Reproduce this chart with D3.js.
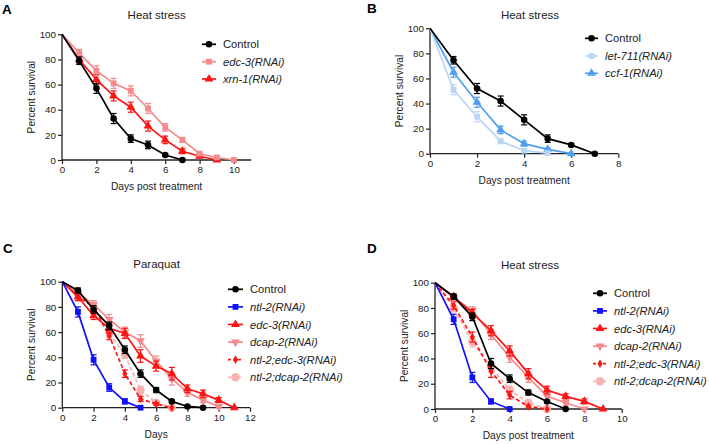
<!DOCTYPE html>
<html><head><meta charset="utf-8">
<script src="https://cdn.jsdelivr.net/npm/d3@7"></script>
<style>body{margin:0;background:#fff}svg{display:block;font-family:"Liberation Sans",Arial,sans-serif}</style>
</head><body><svg id="c" width="709" height="444"></svg>
<script>
// ---------- DATA ----------
// Panel A (Heat stress)
const aControl = [100,79,57,33,17,12,4,0];
const aControlErr = [0,3,4,4,3,3,1,0];
const aEdc3 = [100,85,71,61,55,41,26,16,5,2,0];
const aEdc3Err = [0,3,4,4,4,4,3,2,1,1,0];
const aXrn1 = [100,80,64,51,42,27,16,7,3,0];
const aXrn1Err = [0,3,4,4,4,4,3,2,1,0];
const xTicksA = [0,2,4,6,8,10];

// Panel B (Heat stress)
const bControl = [100,74.5,52,42,27,12,7,0];
const bControlErr = [0,3,4,4,4,3,1,0];
const bLet711 = [100,51,29.5,10,2.4,0.5];
const bLet711Err = [0,4,4,2,1,0];
const bCcf1 = [100,65,41,19,8,3.5,0];
const bCcf1Err = [0,4,4,3,2,1,0];
const xTicksB = [0,2,4,6,8];

// Panel C (Paraquat)
const cControl = [100,93,78,65,46,27,14,5,1,0];
const cControlErr = [0,2,3,3,3,3,2,1,0,0];
const cNtl2 = [100,76,38,16,5,0];
const cNtl2Err = [0,4,4,3,2,0];
const cEdc3 = [100,88,73,63,59,41,33,27,15,11,6,0];
const cEdc3Err = [0,3,3,4,4,5,4,5,3,3,2,0];
const cDcap2 = [100,91,82,70,60,53,37,23,12,6,1];
const cDcap2Err = [0,3,3,4,4,5,4,5,3,2,1];
const cNtl2Edc3 = [100,88,80,57,27,7,3,0];
const cNtl2Edc3Err = [0,3,3,3,3,2,1,0];
const cNtl2Dcap2 = [100,90,80,59,42,14,4,0];
const cNtl2Dcap2Err = [0,3,3,3,3,3,1,0];
const xTicksC = [0,2,4,6,8,10,12];

// Panel D (Heat stress)
const dControl = [100,89,73,36,24,13,6,0];
const dControlErr = [0,2,3,4,3,2,1,0];
const dNtl2 = [100,71,25,6,0];
const dNtl2Err = [0,4,4,2,0];
const dEdc3 = [100,89,76,62,46,28,15,10,6,0];
const dEdc3Err = [0,2,3,4,4,4,3,2,2,0];
const dDcap2 = [100,88,78,59,41,25,10,5,0];
const dDcap2Err = [0,2,3,4,4,4,3,2,0];
const dNtl2Edc3 = [100,82,57,30,11,2,0];
const dNtl2Edc3Err = [0,3,4,5,3,1,0];
const dNtl2Dcap2 = [100,80,53,33,15,5,0];
const dNtl2Dcap2Err = [0,3,4,4,3,2,0];
const xTicksD = [0,2,4,6,8,10];

const yTicks = [0,20,40,60,80,100];

// ---------- STYLES ----------
const BLACK="#000000", RED="#ff1414", PINK="#f58a8c", LPINK="#f9b1b1", BLUE="#1010ff", LBLUE="#b9d7f5", MBLUE="#4f9ff0";

const panels = [
  {letter:"A", title:"Heat stress", xlab:"Days post treatment", xmax:11, xticks:xTicksA,
   x0:62, x1:251.2, yTop:34.3, yBot:160, lx:[202,216,223], ly:[44.3,61.7,79],
   letterPos:[2,13.5], titlePos:[156.7,19],
   series:[
    {name:"Control", v:aControl, e:aControlErr, c:BLACK, sym:d3.symbolCircle, it:false},
    {name:"edc-3(RNAi)", v:aEdc3, e:aEdc3Err, c:PINK, sym:d3.symbolSquare, it:true},
    {name:"xrn-1(RNAi)", v:aXrn1, e:aXrn1Err, c:RED, sym:d3.symbolTriangle, it:true}
   ]},
  {letter:"B", title:"Heat stress", xlab:"Days post treatment", xmax:8, xticks:xTicksB,
   x0:430, x1:618.3, yTop:28.3, yBot:153.7, lx:[585,598,605], ly:[38.3,56,73.3],
   letterPos:[367,13], titlePos:[530,18.5],
   series:[
    {name:"Control", v:bControl, e:bControlErr, c:BLACK, sym:d3.symbolCircle, it:false},
    {name:"let-711(RNAi)", v:bLet711, e:bLet711Err, c:LBLUE, sym:d3.symbolSquare, it:true},
    {name:"ccf-1(RNAi)", v:bCcf1, e:bCcf1Err, c:MBLUE, sym:d3.symbolTriangle, it:true}
   ]},
  {letter:"C", title:"Paraquat", xlab:"Days", xmax:12, xticks:xTicksC,
   x0:62.3, x1:250, yTop:281.7, yBot:407.7, lx:[228,243,250], ly:[289.3,306.9,324.5,342.1,359.7,377.3],
   letterPos:[3,253], titlePos:[156.6,267.5],
   series:[
    {name:"Control", v:cControl, e:cControlErr, c:BLACK, sym:d3.symbolCircle, it:false},
    {name:"ntl-2(RNAi)", v:cNtl2, e:cNtl2Err, c:BLUE, sym:d3.symbolSquare, it:true},
    {name:"edc-3(RNAi)", v:cEdc3, e:cEdc3Err, c:RED, sym:d3.symbolTriangle, it:true},
    {name:"dcap-2(RNAi)", v:cDcap2, e:cDcap2Err, c:PINK, sym:"down", it:true},
    {name:"ntl-2;edc-3(RNAi)", v:cNtl2Edc3, e:cNtl2Edc3Err, c:RED, sym:d3.symbolDiamond, it:true, dash:true, small:true},
    {name:"ntl-2;dcap-2(RNAi)", v:cNtl2Dcap2, e:cNtl2Dcap2Err, c:LPINK, sym:d3.symbolCircle, it:true, dash:true, big:true}
   ]},
  {letter:"D", title:"Heat stress", xlab:"Days post treatment", xmax:10, xticks:xTicksD,
   x0:435, x1:621.7, yTop:282.7, yBot:409, lx:[593,607,614], ly:[293.3,310.9,328.5,346.1,363.7,381.3],
   letterPos:[367,253], titlePos:[530,268.5],
   series:[
    {name:"Control", v:dControl, e:dControlErr, c:BLACK, sym:d3.symbolCircle, it:false},
    {name:"ntl-2(RNAi)", v:dNtl2, e:dNtl2Err, c:BLUE, sym:d3.symbolSquare, it:true},
    {name:"edc-3(RNAi)", v:dEdc3, e:dEdc3Err, c:RED, sym:d3.symbolTriangle, it:true},
    {name:"dcap-2(RNAi)", v:dDcap2, e:dDcap2Err, c:PINK, sym:"down", it:true},
    {name:"ntl-2;edc-3(RNAi)", v:dNtl2Edc3, e:dNtl2Edc3Err, c:RED, sym:d3.symbolDiamond, it:true, dash:true, small:true},
    {name:"ntl-2;dcap-2(RNAi)", v:dNtl2Dcap2, e:dNtl2Dcap2Err, c:LPINK, sym:d3.symbolCircle, it:true, dash:true, big:true}
   ]}
];

const svg = d3.select("#c");

function symPath(s){
  const size = s.big ? 55 : (s.small ? 22 : 34);
  if (s.sym === "down") return {d:d3.symbol(d3.symbolTriangle, size)(), rot:180};
  return {d:d3.symbol(s.sym, size)(), rot:0};
}

panels.forEach(p => {
  const g = svg.append("g");
  const x = d3.scaleLinear().domain([0,p.xmax]).range([p.x0,p.x1]);
  const y = d3.scaleLinear().domain([0,100]).range([p.yBot,p.yTop]);

  g.append("text").attr("x", p.letterPos[0]).attr("y", p.letterPos[1]).text(p.letter)
    .attr("font-weight","bold").attr("font-size",13.5).attr("fill","#000");
  g.append("text").attr("x", p.titlePos[0]).attr("y", p.titlePos[1])
    .attr("text-anchor","middle").attr("font-size",11.5).attr("fill","#222").text(p.title);

  const ya = d3.axisLeft(y).tickValues(yTicks).tickSize(4).tickPadding(2);
  const xa = d3.axisBottom(x).tickValues(p.xticks).tickSize(4).tickPadding(2.5);
  const gy = g.append("g").attr("transform",`translate(${p.x0},0)`).call(ya);
  const gx = g.append("g").attr("transform",`translate(0,${p.yBot})`).call(xa);
  [gx,gy].forEach(a=>{
    a.selectAll("path").attr("stroke","#222").attr("stroke-width",1.3);
    a.selectAll("line").attr("stroke","#222").attr("stroke-width",1.2);
    a.selectAll("text").attr("font-size",9.8).attr("fill","#222").attr("font-family","Liberation Sans, Arial, sans-serif");
  });
  gy.select(".domain").attr("d",`M0,${p.yBot}V${p.yTop}`);
  gx.select(".domain").attr("d",`M${p.x0},0H${p.x1}`);

  g.append("text").attr("x",(p.x0+p.x1)/2).attr("y",p.yBot+30).attr("text-anchor","middle")
    .attr("font-size",10.2).attr("fill","#222").text(p.xlab);
  g.append("text").attr("transform",`translate(${p.x0-27},${(p.yTop+p.yBot)/2}) rotate(-90)`)
    .attr("text-anchor","middle").attr("font-size",10.2).attr("fill","#222").text("Percent survival");

  const line = d3.line().x((d,i)=>x(i)).y(d=>y(d));
  p.series.slice().reverse().forEach(s => {
    const sg = g.append("g");
    sg.append("path").attr("d", line(s.v)).attr("fill","none").attr("stroke",s.c)
      .attr("stroke-width",1.7).attr("stroke-dasharray", s.dash ? "4,2.5" : null);
    s.v.forEach((v,i)=>{
      if(i===0) return;
      const e = s.e[i];
      if(e>0){
        sg.append("line").attr("x1",x(i)).attr("x2",x(i)).attr("y1",y(v-e)).attr("y2",y(v+e)).attr("stroke",s.c).attr("stroke-width",1.2);
        [v-e,v+e].forEach(w=>sg.append("line").attr("x1",x(i)-3).attr("x2",x(i)+3).attr("y1",y(w)).attr("y2",y(w)).attr("stroke",s.c).attr("stroke-width",1.2));
      }
      const sp = symPath(s);
      sg.append("path").attr("d",sp.d).attr("transform",`translate(${x(i)},${y(v)}) rotate(${sp.rot})`).attr("fill",s.c);
    });
  });

  p.series.forEach((s,k)=>{
    const ly = p.ly[k];
    g.append("line").attr("x1",p.lx[0]).attr("x2",p.lx[1]).attr("y1",ly).attr("y2",ly).attr("stroke",s.c)
      .attr("stroke-width",1.7).attr("stroke-dasharray", s.dash ? "3,2" : null);
    const sp = symPath(s);
    g.append("path").attr("d",sp.d).attr("transform",`translate(${(p.lx[0]+p.lx[1])/2},${ly}) rotate(${sp.rot})`).attr("fill",s.c);
    g.append("text").attr("x",p.lx[2]).attr("y",ly+4).attr("font-size",11.2).attr("fill","#222")
      .attr("font-style", s.it ? "italic" : "normal").text(s.name);
  });
});
</script></body></html>
